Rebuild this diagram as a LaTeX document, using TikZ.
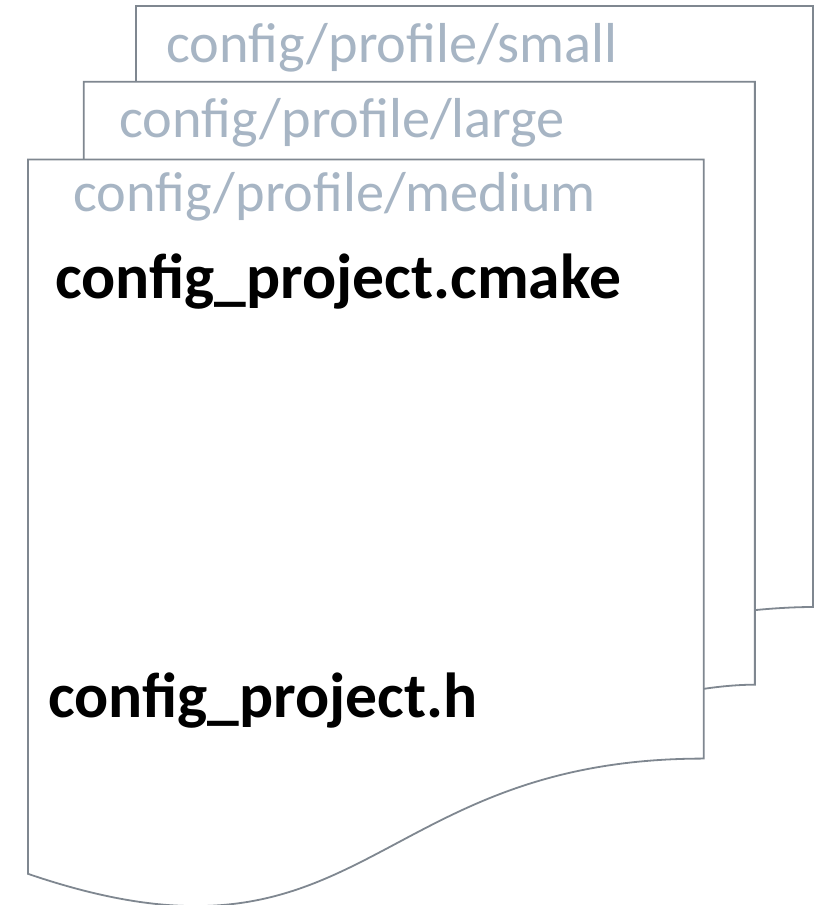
\documentclass[tikz,border=0pt]{standalone}
\usepackage{fontspec}
\setmainfont{Carlito}
\definecolor{pageline}{HTML}{7F8790}
\definecolor{profiletext}{HTML}{A7B5C4}
\tikzset{
  page/.style={draw=pageline, line width=1.8pt, fill=white, line join=miter},
  profile/.style={anchor=base west, inner sep=0pt, text=profiletext, font=\fontsize{56.3}{60}\selectfont},
  filename/.style={anchor=base west, inner sep=0pt, text=black, font=\bfseries\fontsize{63.6}{68}\selectfont},
}
\begin{document}
\begin{tikzpicture}[x=1pt, y=-1pt]
\useasboundingbox (0,0) rectangle (821,905);
% stacked multi-document outline, drawn back to front
\begin{scope}[shift={(28,6)}, x=3.6343pt, y=-4.1759pt]
  \path[page] (29.72,0) -- (216,0) -- (216,143.92)
    .. controls (208,143.92) and (200,144.67) .. (200,144.67)
    -- (29.72,144.67) -- cycle;
  \path[page] (15.32,18.15) -- (200,18.15) -- (200,162.52)
    .. controls (192.98,162.52) and (185.95,163.52) .. (185.95,163.52)
    -- (15.32,163.52) -- cycle;
  \path[page] (0,36.75) -- (185.95,36.75) -- (185.95,180.22)
    .. controls (92.98,180.22) and (92.98,235.42) .. (0,207.82) -- cycle;
\end{scope}
\node[profile] (small) at (166,62) {config/profile/small};
\node[profile] (large) at (119,137) {config/profile/large};
\node[profile] (medium) at (73,211) {config/profile/medium};
\node[filename] (cmake) at (55,298) {config\_project.cmake};
\node[filename] (header) at (48,717) {config\_project.h};
\end{tikzpicture}
\end{document}
